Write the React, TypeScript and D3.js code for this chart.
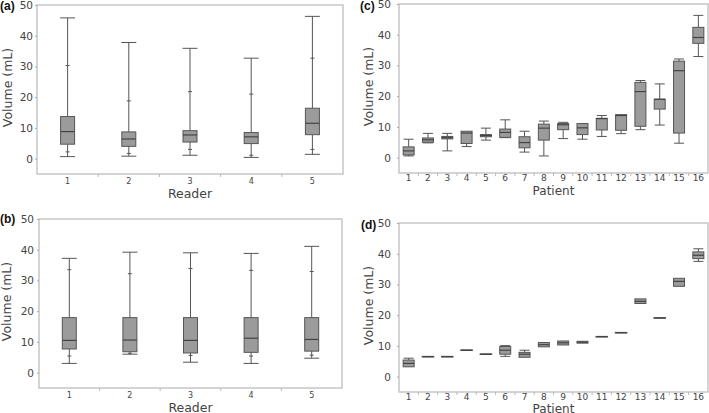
import React, { useRef, useEffect } from 'react';
import * as d3 from 'd3';

const readers = ['1', '2', '3', '4', '5'];
const patients = d3.range(1, 17).map(String);
const yTicks = [0, 10, 20, 30, 40, 50];

// panel (a): readers, first set
const aMin = [0.65, 0.8, 1.1, 0.4, 1.4];
const aLow = [2.2, 1.7, 3.0, 1.1, 3.0];
const aQ1 = [4.7, 4.0, 5.4, 4.9, 7.8];
const aMed = [8.8, 6.4, 7.7, 7.1, 11.5];
const aQ3 = [13.7, 8.7, 9.1, 8.5, 16.4];
const aHigh = [30.3, 18.8, 21.8, 21.0, 32.7];
const aMax = [45.8, 37.8, 35.9, 32.7, 46.3];

// panel (b): readers, second set
const bMin = [3.0, 6.0, 3.4, 3.0, 4.7];
const bLow = [5.4, 6.3, 5.6, 5.4, 5.7];
const bQ1 = [7.7, 6.8, 6.4, 6.6, 7.0];
const bMed = [10.5, 10.6, 10.5, 11.2, 10.8];
const bQ3 = [17.9, 17.9, 17.9, 17.9, 17.9];
const bHigh = [33.5, 32.2, 33.9, 33.3, 32.9];
const bMax = [37.2, 39.2, 39.0, 38.8, 41.1];

// panel (c): patients, first set
const cMin = [0.55, 4.8, 2.2, 3.6, 5.7, 6.5, 1.8, 0.55, 6.2, 6.0, 6.9, 7.8, 9.1, 10.6, 4.7, 32.9];
const cQ1 = [0.9, 5.0, 6.1, 4.6, 6.8, 6.6, 3.2, 5.7, 9.1, 7.5, 9.0, 8.9, 10.2, 15.8, 8.0, 37.2];
const cMed = [2.2, 5.8, 6.5, 8.0, 7.2, 8.2, 4.9, 9.6, 10.7, 9.7, 12.7, 13.7, 21.5, 19.0, 28.3, 39.1];
const cQ3 = [3.5, 6.4, 6.9, 8.6, 7.5, 9.3, 6.8, 10.9, 11.1, 11.1, 12.8, 14.0, 24.5, 19.0, 31.4, 42.4];
const cMax = [6.0, 7.9, 7.9, 8.6, 9.6, 12.3, 8.6, 11.9, 11.5, 11.1, 13.7, 14.0, 25.1, 24.0, 32.1, 46.3];

// panel (d): patients, second set
const dMin = [3.2, 6.5, 6.5, 8.6, 7.3, 6.6, 6.3, 9.7, 10.3, 10.9, 13.0, 14.3, 23.8, 19.1, 29.4, 37.5];
const dQ1 = [3.2, 6.5, 6.5, 8.6, 7.3, 7.3, 6.3, 9.7, 10.3, 10.9, 13.0, 14.3, 23.8, 19.1, 29.4, 38.4];
const dMed = [4.3, 6.5, 6.5, 8.6, 7.3, 8.6, 7.3, 10.4, 11.0, 11.2, 13.0, 14.3, 24.5, 19.1, 31.0, 39.5];
const dQ3 = [5.4, 6.5, 6.5, 8.6, 7.3, 9.8, 7.9, 11.1, 11.6, 11.5, 13.0, 14.3, 25.3, 19.1, 32.0, 40.6];
const dMax = [6.0, 6.5, 6.5, 8.6, 7.3, 10.1, 8.6, 11.1, 11.6, 11.5, 13.0, 14.3, 25.3, 19.1, 32.0, 41.6];

type Stats = {
  min: number[]; q1: number[]; med: number[]; q3: number[]; max: number[];
  low?: number[]; high?: number[];
};

type PanelSpec = {
  tag: string; cats: string[]; stats: Stats; xTitle: string;
  left: number; top: number; width: number; height: number;
  boxW: number; capW: number; catFont: number; catPad: number; titleY: number; titleFont: number;
  yLabelGap: number; yTitleX: number; tagX: number; tagY: number;
};

const panels: PanelSpec[] = [
  { tag: '(a)', cats: readers, xTitle: 'Reader', left: 37, top: 5, width: 306, height: 169,
    boxW: 14, capW: 15, catFont: 8, catPad: 4, titleY: 24, titleFont: 12.5, yLabelGap: 4, yTitleX: 7, tagX: 0, tagY: 10,
    stats: { min: aMin, q1: aQ1, med: aMed, q3: aQ3, max: aMax, low: aLow, high: aHigh } },
  { tag: '(b)', cats: readers, xTitle: 'Reader', left: 39, top: 219, width: 303, height: 169,
    boxW: 14, capW: 15, catFont: 8, catPad: 4, titleY: 23.5, titleFont: 12.5, yLabelGap: 5, yTitleX: 6, tagX: 0, tagY: 223,
    stats: { min: bMin, q1: bQ1, med: bMed, q3: bQ3, max: bMax, low: bLow, high: bHigh } },
  { tag: '(c)', cats: patients, xTitle: 'Patient', left: 399, top: 4, width: 309, height: 169,
    boxW: 11, capW: 10, catFont: 9, catPad: 1.5, titleY: 22, titleFont: 12, yLabelGap: 8, yTitleX: 368, tagX: 360, tagY: 10,
    stats: { min: cMin, q1: cQ1, med: cMed, q3: cQ3, max: cMax } },
  { tag: '(d)', cats: patients, xTitle: 'Patient', left: 399, top: 223, width: 309, height: 169,
    boxW: 11, capW: 10, catFont: 9, catPad: 1.5, titleY: 20.5, titleFont: 12, yLabelGap: 8, yTitleX: 368, tagX: 361, tagY: 229,
    stats: { min: dMin, q1: dQ1, med: dMed, q3: dQ3, max: dMax } },
];

const FONT = 'DejaVu Sans, Verdana, sans-serif';
const TEXT = '#444';
const LINE = '#555';

const App: React.FC = () => {
  const svgRef = useRef<SVGSVGElement>(null);

  useEffect(() => {
    if (!svgRef.current) return;
    const svg = d3.select(svgRef.current);
    svg.selectAll('*').remove();

    panels.forEach(p => {
      const x = d3.scaleBand().domain(p.cats).range([0, p.width]).padding(0);
      const y = d3.scaleLinear().domain([-5, 50]).range([p.height, 0]);
      const g = svg.append('g').attr('transform', `translate(${p.left},${p.top})`);

      // frame
      g.append('rect')
        .attr('x', 0).attr('y', 0).attr('width', p.width).attr('height', p.height)
        .attr('fill', 'none').attr('stroke', '#bdbdbd').attr('stroke-width', 1.3);

      // y axis
      const ya = g.append('g').call(d3.axisLeft(y).tickValues(yTicks).tickSize(2).tickPadding(p.yLabelGap - 2));
      ya.select('.domain').remove();
      ya.selectAll('line').attr('stroke', '#aaa');
      ya.selectAll('text').attr('font-family', FONT).attr('font-size', 10.5).attr('fill', TEXT);

      // x axis: labels at band centres, ticks at band edges
      const xa = g.append('g').attr('transform', `translate(0,${p.height})`)
        .call(d3.axisBottom(x).tickSize(0).tickPadding(p.catPad));
      xa.select('.domain').remove();
      xa.selectAll('text').attr('font-family', FONT).attr('font-size', p.catFont).attr('fill', TEXT);
      g.selectAll('.edge')
        .data(p.cats.slice(1))
        .enter().append('line')
        .attr('x1', d => x(d) || 0).attr('x2', d => x(d) || 0)
        .attr('y1', p.height).attr('y2', p.height + 3)
        .attr('stroke', '#bbb');

      // axis titles
      g.append('text')
        .attr('x', p.width / 2).attr('y', p.height + p.titleY)
        .attr('text-anchor', 'middle').attr('font-family', FONT).attr('font-size', p.titleFont)
        .attr('fill', TEXT).text(p.xTitle);
      g.append('text')
        .attr('transform', `translate(${p.yTitleX - p.left},${p.height / 2 - 2}) rotate(-90)`)
        .attr('text-anchor', 'middle').attr('dominant-baseline', 'central')
        .attr('font-family', FONT).attr('font-size', 12.5).attr('fill', TEXT).text('Volume (mL)');
      g.append('text')
        .attr('x', p.tagX - p.left).attr('y', p.tagY - p.top)
        .attr('font-family', 'Liberation Sans, Arial, sans-serif').attr('font-weight', 'bold')
        .attr('font-size', 12).attr('fill', '#111').text(p.tag);

      const s = p.stats;
      const cx = (i: number) => (x(p.cats[i]) || 0) + x.bandwidth() / 2;
      const boxes = g.selectAll('.box').data(p.cats).enter().append('g');

      // whiskers
      boxes.append('line')
        .attr('x1', (_, i) => cx(i)).attr('x2', (_, i) => cx(i))
        .attr('y1', (_, i) => y(s.max[i])).attr('y2', (_, i) => y(s.q3[i]))
        .attr('stroke', LINE).attr('stroke-width', 1);
      boxes.append('line')
        .attr('x1', (_, i) => cx(i)).attr('x2', (_, i) => cx(i))
        .attr('y1', (_, i) => y(s.q1[i])).attr('y2', (_, i) => y(s.min[i]))
        .attr('stroke', LINE).attr('stroke-width', 1);
      // caps
      [s.max, s.min].forEach(arr => {
        boxes.filter((_, i) => arr === s.max ? s.max[i] > s.q3[i] : s.min[i] < s.q1[i])
          .append('line')
          .attr('x1', d => cx(p.cats.indexOf(d)) - p.capW / 2)
          .attr('x2', d => cx(p.cats.indexOf(d)) + p.capW / 2)
          .attr('y1', d => y(arr[p.cats.indexOf(d)])).attr('y2', d => y(arr[p.cats.indexOf(d)]))
          .attr('stroke', LINE).attr('stroke-width', 1);
      });
      // percentile markers
      if (s.low && s.high) {
        [s.low, s.high].forEach(arr => {
          boxes.append('line')
            .attr('x1', (_, i) => cx(i) - 2).attr('x2', (_, i) => cx(i) + 2)
            .attr('y1', (_, i) => y(arr[i])).attr('y2', (_, i) => y(arr[i]))
            .attr('stroke', LINE).attr('stroke-width', 1);
        });
      }
      // box
      boxes.append('rect')
        .attr('x', (_, i) => cx(i) - p.boxW / 2).attr('width', p.boxW)
        .attr('y', (_, i) => y(s.q3[i]))
        .attr('height', (_, i) => Math.max(0.01, y(s.q1[i]) - y(s.q3[i])))
        .attr('fill', '#9b9b9b').attr('stroke', LINE)
        .attr('stroke-width', (_, i) => s.q3[i] - s.q1[i] < 0.2 ? 1.6 : 1);
      // median
      boxes.append('line')
        .attr('x1', (_, i) => cx(i) - p.boxW / 2).attr('x2', (_, i) => cx(i) + p.boxW / 2)
        .attr('y1', (_, i) => y(s.med[i])).attr('y2', (_, i) => y(s.med[i]))
        .attr('stroke', '#444').attr('stroke-width', 1.2);
    });
  }, []);

  return (
    <svg ref={svgRef} width={709} height={413}
      style={{ position: 'absolute', left: 0, top: 0, background: '#fff' }} />
  );
};

export default App;
